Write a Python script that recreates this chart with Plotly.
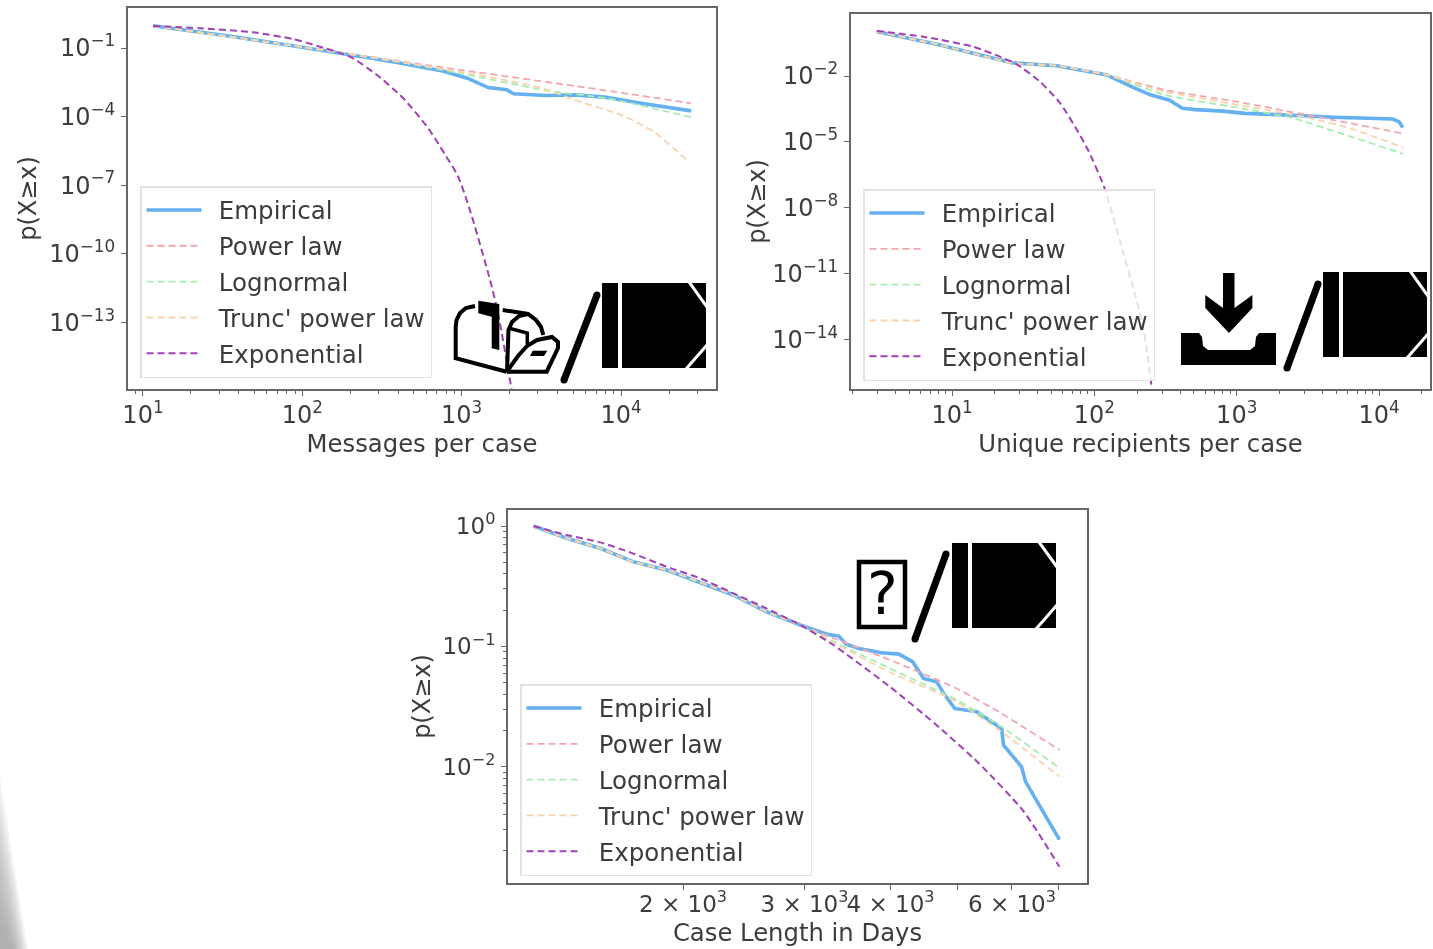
import numpy as np
import plotly.graph_objects as go

W, H = 1433, 949
NAMES = ["Empirical", "Power law", "Lognormal", "Trunc' power law", "Exponential"]
COLORS = ["#64B0F0", "#F4A6AE", "#A6EDB0", "#F8D4AE", "#A040B8"]
WIDTHS = [3.6, 1.8, 1.8, 1.8, 2.0]
INK = "#3c3c3c"
FRAME = "#666666"
FONT = "DejaVu Sans"

# All x / y series are log10 of the values.
# Panel 1: messages per case
m_emp_x = [1.063,1.571,2.01,2.303,2.595,2.888,3.035,3.166,3.283,3.327,3.53,3.708,3.898,4.147,4.44]
m_emp_y = [-0.03,-0.51,-0.98,-1.293,-1.63,-2.02,-2.32,-2.73,-2.83,-3.0,-3.08,-3.05,-3.15,-3.44,-3.75]
m_pow_x = [1.063,2.01,3.0,3.76,4.44]
m_pow_y = [-0.03,-0.97,-1.97,-2.71,-3.42]
m_log_x = [1.063,2.01,2.6,3.0,3.53,3.91,4.44]
m_log_y = [-0.03,-0.97,-1.6,-2.12,-2.86,-3.2,-4.03]
m_trc_x = [1.063,2.01,3.0,3.5,3.737,4.0,4.205,4.425]
m_trc_y = [-0.03,-0.97,-2.05,-2.75,-3.34,-3.93,-4.66,-5.98]
m_exp_x = [1.063,1.358,1.69,1.941,2.111,2.299,2.469,2.632,2.789,2.89,2.976,3.05,3.178,3.228,3.313]
m_exp_y = [-0.037,-0.138,-0.313,-0.606,-0.943,-1.38,-2.18,-3.19,-4.5,-5.6,-6.6,-8.05,-11.15,-12.6,-15.93]

# Panel 2: unique recipients per case
r_emp_x = [0.471,0.916,1.148,1.42,1.736,2.087,2.272,2.398,2.524,2.618,2.712,2.9,3.058,3.215,3.372,3.686,4.095,4.14,4.167]
r_emp_y = [0.03,-0.59,-0.966,-1.4,-1.53,-1.95,-2.52,-2.87,-3.09,-3.47,-3.53,-3.6,-3.7,-3.76,-3.78,-3.88,-3.96,-4.08,-4.34]
r_pow_x = [0.471,0.916,1.148,1.42,1.736,2.087,2.5,3.0,3.5,4.17]
r_pow_y = [0.03,-0.59,-0.966,-1.4,-1.53,-1.95,-2.64,-3.17,-3.78,-4.62]
r_log_x = [0.471,0.916,1.148,1.42,1.736,2.087,2.5,3.0,3.4,3.7,4.17]
r_log_y = [0.03,-0.59,-0.966,-1.4,-1.53,-1.95,-2.87,-3.43,-3.93,-4.54,-5.55]
r_trc_x = [0.471,0.916,1.148,1.42,1.736,2.087,2.5,3.0,3.5,3.8,4.17]
r_trc_y = [0.03,-0.59,-0.966,-1.4,-1.53,-1.95,-2.72,-3.3,-3.9,-4.39,-5.25]
r_exp_x = [0.471,0.796,1.148,1.337,1.455,1.618,1.759,1.885,1.958,2.068,2.178,2.288,2.351,2.404]
r_exp_y = [0.05,-0.21,-0.666,-1.12,-1.467,-2.26,-3.23,-4.54,-5.4,-7.05,-9.48,-12.0,-13.73,-16.24]

# Panel 3: case length in days
d_emp_x = [3.084,3.132,3.181,3.228,3.277,3.326,3.374,3.422,3.471,3.511,3.527,3.537,3.556,3.589,3.614,3.634,3.65,3.669,3.679,3.695,3.727,3.763,3.766,3.792,3.798,3.847]
d_emp_y = [0,-0.102,-0.185,-0.296,-0.365,-0.468,-0.573,-0.712,-0.822,-0.9,-0.914,-0.98,-1.017,-1.053,-1.064,-1.127,-1.266,-1.294,-1.39,-1.515,-1.543,-1.681,-1.82,-2.0,-2.125,-2.604]
d_pow_x = [3.084,3.132,3.181,3.228,3.277,3.326,3.374,3.422,3.471,3.519,3.6,3.698,3.763,3.847]
d_pow_y = [0,-0.102,-0.185,-0.296,-0.365,-0.468,-0.573,-0.712,-0.822,-0.93,-1.11,-1.35,-1.557,-1.86]
d_log_x = [3.084,3.132,3.181,3.228,3.277,3.326,3.374,3.422,3.471,3.519,3.6,3.698,3.763,3.847]
d_log_y = [0,-0.102,-0.185,-0.296,-0.365,-0.468,-0.573,-0.712,-0.822,-0.96,-1.18,-1.446,-1.668,-2.01]
d_trc_x = [3.084,3.132,3.181,3.228,3.277,3.326,3.374,3.422,3.471,3.519,3.6,3.698,3.763,3.847]
d_trc_y = [0,-0.102,-0.185,-0.296,-0.365,-0.468,-0.573,-0.712,-0.822,-0.97,-1.21,-1.46,-1.71,-2.08]
d_exp_x = [3.084,3.132,3.181,3.228,3.277,3.326,3.374,3.422,3.471,3.519,3.601,3.666,3.73,3.795,3.847]
d_exp_y = [0,-0.075,-0.136,-0.227,-0.338,-0.435,-0.559,-0.684,-0.822,-0.988,-1.335,-1.64,-1.97,-2.37,-2.83]

m_ytick_exp = [-1,-4,-7,-10,-13]
r_ytick_exp = [-2,-5,-8,-11,-14]
d_ytick_exp = [0,-1,-2]
m_xtick_exp = [1,2,3,4]
d_xticks = [2000,3000,4000,5000,6000,7000]
d_xlabels = ["2 × 10<sup>3</sup>","3 × 10<sup>3</sup>","4 × 10<sup>3</sup>","","6 × 10<sup>3</sup>",""]

YT = "p(X≥x)"
PANELS = [
  dict(box=(128,716,8,389), xr=(0.906,4.596), yr=(0.75,-15.92), title="Messages per case",
       s=[(m_emp_x,m_emp_y),(m_pow_x,m_pow_y),(m_log_x,m_log_y),(m_trc_x,m_trc_y),(m_exp_x,m_exp_y)],
       yt=m_ytick_exp, legend=(140,186), xs=5, ys=6),
  dict(box=(851,1430,14,389), xr=(0.29,4.358), yr=(0.823,-16.25), title="Unique recipients per case",
       s=[(r_emp_x,r_emp_y),(r_pow_x,r_pow_y),(r_log_x,r_log_y),(r_trc_x,r_trc_y),(r_exp_x,r_exp_y)],
       yt=r_ytick_exp, legend=(863,189), xs=5, ys=0),
  dict(box=(508,1087,510,883), xr=(3.047,3.887), yr=(0.133,-2.965), title="Case Length in Days",
       s=[(d_emp_x,d_emp_y),(d_pow_x,d_pow_y),(d_log_x,d_log_y),(d_trc_x,d_trc_y),(d_exp_x,d_exp_y)],
       yt=d_ytick_exp, legend=(520,684), xs=8, ys=5),
]

def exp_label(e):
    return "10<sup>" + str(e).replace("-", "\u2212") + "</sup>"

fig = go.Figure()
layout = dict(width=W, height=H, margin=dict(l=0,r=0,t=0,b=0,autoexpand=False), autosize=False,
              paper_bgcolor="white", plot_bgcolor="white",
              font=dict(family=FONT, color=INK, size=24), showlegend=True)

for i, p in enumerate(PANELS):
    sfx = "" if i == 0 else str(i+1)
    l, r, t, b = p["box"]
    for j, (xs, ys) in enumerate(p["s"]):
        fig.add_trace(go.Scatter(
            x=10**np.array(xs), y=10**np.array(ys), mode="lines", name="\u2002"+NAMES[j],
            xaxis="x"+sfx, yaxis="y"+sfx, legend="legend"+sfx, legendgroup=f"p{i}{j}",
            line=dict(color=COLORS[j], width=WIDTHS[j], dash="solid" if j == 0 else "7px,4px",
                      shape="linear" if j == 0 else "spline", smoothing=0.6),
        ))
    common = dict(type="log", showgrid=False, zeroline=False, showline=True, mirror=True, automargin=False,
                  linecolor=FRAME, linewidth=2, ticks="outside", tickcolor=FRAME, ticklen=5,
                  tickwidth=1, tickfont=dict(size=24 if i < 2 else 23, family=FONT, color=INK), tickangle=0)
    if i < 2:
        xt = [10.0**e for e in m_xtick_exp]
        xl = [exp_label(e) for e in m_xtick_exp]
        xminor = dict(ticks="outside", ticklen=3, tickcolor=FRAME, showgrid=False,
                      tickvals=[k*10.0**d for d in range(0,6) for k in range(2,10)])
    else:
        xt, xl = d_xticks, d_xlabels
        xminor = None
    xa = dict(common, domain=[l/W, r/W], range=list(p["xr"]), tickmode="array",
              tickvals=xt, ticktext=xl, anchor="y"+sfx, ticklabelstandoff=-2 if i < 2 else -6,
              title=dict(text=p["title"], standoff=p["xs"], font=dict(size=24.3, family=FONT, color=INK)))
    if xminor: xa["minor"] = xminor
    yminor = None
    if i == 2:
        yminor = dict(ticks="outside", ticklen=3, tickcolor=FRAME, showgrid=False,
                      tickvals=[k*10.0**d for d in (-3,-2,-1) for k in range(2,10)])
    ya = dict(common, domain=[1-b/H, 1-t/H], range=[p["yr"][1], p["yr"][0]], tickmode="array",
              tickvals=[10.0**e for e in p["yt"]], ticktext=[exp_label(e) for e in p["yt"]],
              anchor="x"+sfx, ticklabelstandoff=1,
              title=dict(text=YT, standoff=p["ys"], font=dict(size=24, family=FONT, color=INK)))
    if yminor: ya["minor"] = yminor
    layout["xaxis"+sfx] = xa
    layout["yaxis"+sfx] = ya
    lx, ly = p["legend"]
    layout["legend"+sfx] = dict(x=lx/W, y=1-ly/H, xanchor="left", yanchor="top",
        bgcolor="rgba(255,255,255,0.8)", bordercolor="#e2e2e2", borderwidth=1.5,
        font=dict(size=24.5, family=FONT, color=INK), itemwidth=55, tracegroupgap=1,
        itemclick=False, itemdoubleclick=False)

# ---------- pictograms and the page-edge shadow ----------
def P(x, y): return f"{x/W:.5f},{1-y/H:.5f}"
def path(pts, close=True):
    return "M" + " L".join(P(*q) for q in pts) + (" Z" if close else "")
shapes = []
def poly(pts, fill="black", line=0, close=True, color="black", op=1, layer="above"):
    shapes.append(dict(type="path", xref="paper", yref="paper", path=path(pts, close),
                       fillcolor=fill if close else "rgba(0,0,0,0)", opacity=op, layer=layer,
                       line=dict(color=color, width=line)))
def seg(a, b, w, color="black", cap=True):
    poly([a, b], close=False, line=w, color=color)
    if cap:
        for c in (a, b):
            r = w/2
            shapes.append(dict(type="circle", xref="paper", yref="paper",
                x0=(c[0]-r)/W, x1=(c[0]+r)/W, y0=1-(c[1]+r)/H, y1=1-(c[1]-r)/H,
                fillcolor=color, line=dict(width=0)))
def doc(x, y):
    poly([(x,y),(x+104,y),(x+104,y+85),(x,y+85)])
    poly([(x+16,y),(x+20,y),(x+20,y+85),(x+16,y+85)], fill="white")
    seg((x+87,y-1),(x+105,y+24),3,"white",False)
    seg((x+84,y+86),(x+105,y+62),3,"white",False)

doc(602,283); doc(1323,272); doc(952,543)
seg((564,380),(597,295),7); seg((1287,368),(1318,284),7); seg((915,639),(946,554),7)

# mailbox
poly([(475,306),(466,308),(460,313),(456.5,320),(455.7,327),(455.7,358.3),(506.7,371.7)],close=False,line=4)
poly([(502.7,310),(528,314),(536,320),(541,327),(543.3,335)],close=False,line=4)
poly([(528,314),(519,316),(512,322),(508.5,330),(507,371.7)],close=False,line=4)
poly([(508.3,328),(527.3,333),(527.3,344)],close=False,line=3.5)
poly([(507,371.7),(546.7,371.7),(558,348),(558,342),(552,337),(537,340),(527,346),(518,356),(508,370)],close=False,line=4)
poly([(478.3,300.7),(499.3,304),(499.3,350),(491.7,348.3),(491.7,316.7),(478.3,313.3)])
poly([(532.7,350.7),(547.3,350.7),(544,356),(530,356)])

# download tray
poly([(1223,273),(1234.5,273),(1234.5,308),(1252.4,295),(1252.4,308),(1229,333),(1205.3,308),(1205.3,295),(1223,308)])
poly([(1181,333),(1199,333),(1202,337),(1203,346),(1208,350),(1250,350),(1255,346),(1256,337),(1259,333),(1276,333),(1276,365),(1181,365)])

# missing-glyph box
poly([(859,562),(905,562),(905,627),(859,627)],close=True,fill="rgba(0,0,0,0)",line=4.5)

# grey shadow at the lower-left edge of the page
for base, top in zip([28,27,26,25,24,23,22,21,20,19,18,17,16,15,14,13], range(775,935,10)):
    poly([(0,top),(base,949),(0,949)],fill="#808080",op=0.058,layer="below")

layout["shapes"] = shapes
layout["annotations"] = [dict(text="?", xref="paper", yref="paper", x=882/W, y=1-594/H,
    showarrow=False, font=dict(size=58, family=FONT, color="black"), xanchor="center", yanchor="middle")]

fig.update_layout(**layout)
fig.write_html("out.html", config={"displayModeBar": False},
    post_script="document.body.style.margin='0';document.documentElement.style.overflow='hidden';"
                "document.querySelectorAll('.cartesianlayer,.legend,.g-xtitle,.g-ytitle,.g-x2title,.g-y2title,.g-x3title,.g-y3title').forEach(function(e){e.style.filter='blur(0.6px)';});")
